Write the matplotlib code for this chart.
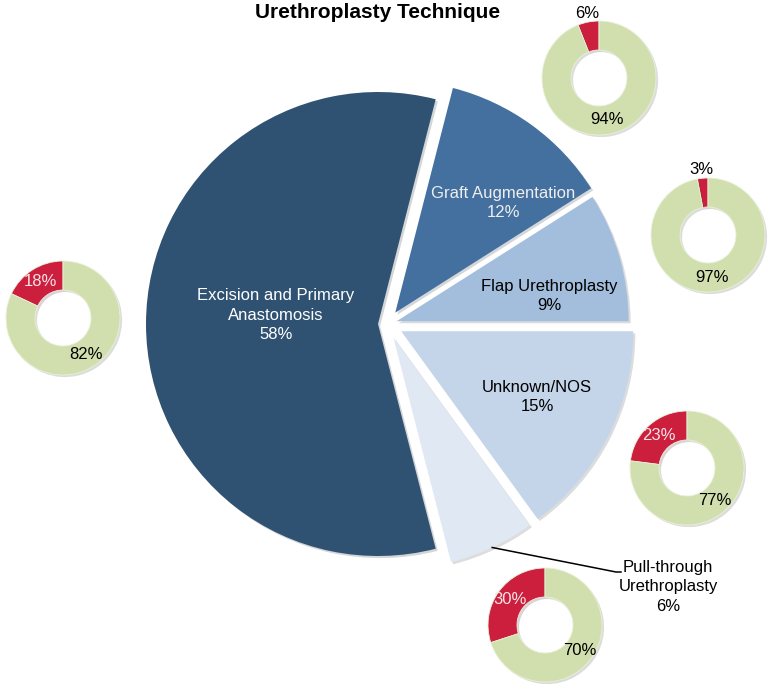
import numpy as np
import matplotlib.pyplot as plt
import matplotlib.patheffects as pe

plt.rcParams['font.family'] = ['Liberation Sans', 'DejaVu Sans']

W, H = 772, 690

# main pie, clockwise from the top
techniques = ['Graft Augmentation', 'Flap Urethroplasty', 'Unknown/NOS',
              'Pull-through\nUrethroplasty', 'Excision and Primary\nAnastomosis']
shares = [12, 9, 15, 6, 58]

# small donuts: red part per technique
red_share = [6, 3, 23, 30, 18]

main_colors = ['#44709f', '#a3bedc', '#c4d5ea', '#dfe8f3', '#2f5273']
text_colors = ['#eeeeee', 'black', 'black', 'black', 'white']
explode_px = [14, 10, 16, 15, 9]
red = '#cc1f3d'
green = '#d1dfae'

# layout in pixel coords (y from the top)
pie_center = (387, 324)
pie_radius = 232
label_pos = [(503, 203), (549, 296), (537, 397), (668, 587), (276, 315)]
donut_centers = [(599, 78), (708, 235), (687, 468), (545, 625), (63, 318)]
donut_r = 57
donut_w = 29

fig = plt.figure(figsize=(W / 100, H / 100), dpi=100)
ax = fig.add_axes([0, 0, 1, 1])

shadow = [pe.SimplePatchShadow(offset=(1.5, -1.5), alpha=0.18), pe.Normal()]

wedges, _ = ax.pie(shares, center=(pie_center[0], H - pie_center[1]),
                   radius=pie_radius, startangle=3.6 * (shares[0] + shares[1]),
                   counterclock=False, colors=main_colors, explode=explode_px,
                   wedgeprops=dict(linewidth=0))
for w in wedges:
    w.set_path_effects(shadow)

for i, name in enumerate(techniques):
    x, y = label_pos[i]
    ax.text(x, H - y, name + '\n%d%%' % shares[i], ha='center', va='center',
            fontsize=12, color=text_colors[i], linespacing=1.35)

# leader line for the small slice
w = wedges[3]
t = np.deg2rad((w.theta1 + w.theta2) / 2)
px = w.center[0] + w.r * np.cos(t)
py = w.center[1] + w.r * np.sin(t)
ax.plot([px, 616, 621], [py, H - 572, H - 572], color='black', lw=1.1)

# donuts
for i, v in enumerate(red_share):
    cx, cy = donut_centers[i]
    dw, _ = ax.pie([v, 100 - v], center=(cx, H - cy), radius=donut_r,
                   startangle=90, counterclock=True, colors=[red, green],
                   wedgeprops=dict(width=donut_w, edgecolor='#e8f0d8', linewidth=0.6))
    for j, d in enumerate(dw):
        d.set_path_effects(shadow)
        t = np.deg2rad((d.theta1 + d.theta2) / 2)
        val = [v, 100 - v][j]
        if val < 10:
            dist, col = 1.15, 'black'
        else:
            dist, col = 0.75, ('#f6e4e6' if j == 0 else 'black')
        ax.text(cx + dist * donut_r * np.cos(t), H - cy + dist * donut_r * np.sin(t),
                '%d%%' % val, ha='center', va='center', fontsize=12, color=col)

ax.text(378, H - 13, 'Urethroplasty Technique', ha='center', va='center',
        fontsize=15, fontweight='bold')

ax.set_xlim(0, W)
ax.set_ylim(0, H)
ax.set_aspect('equal')
ax.axis('off')

fig.savefig('out.png', dpi=100)
